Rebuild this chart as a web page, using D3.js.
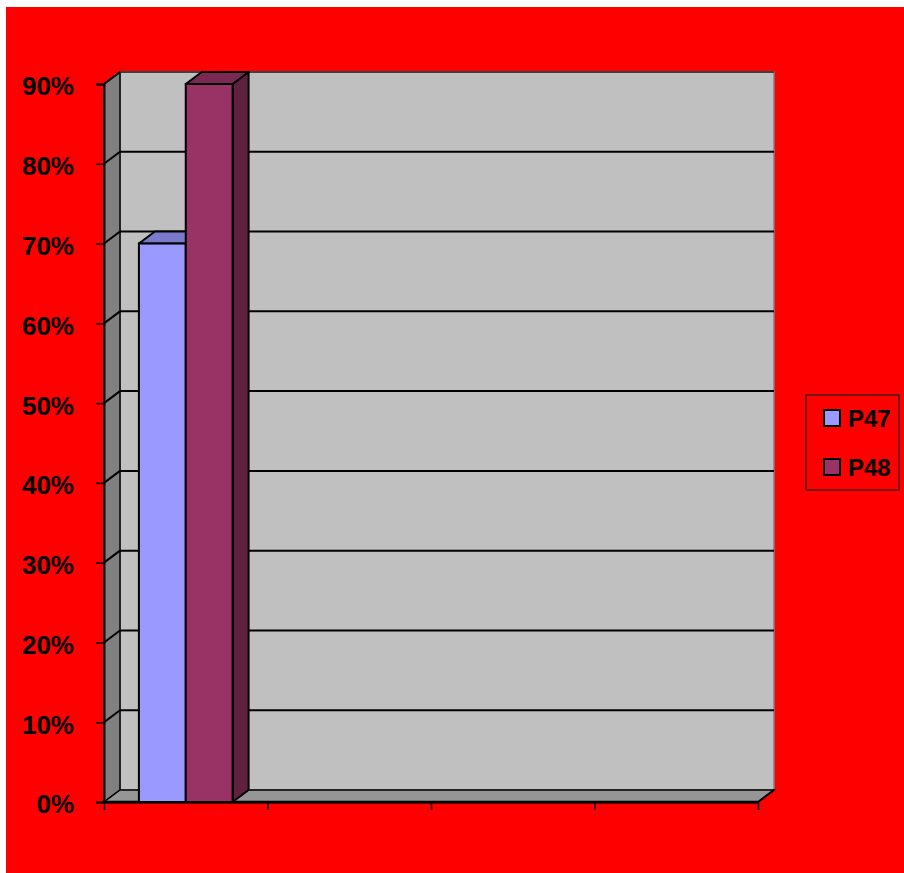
<!DOCTYPE html>
<html>
<head>
<meta charset="utf-8">
<script src="https://cdn.jsdelivr.net/npm/d3@7"></script>
<style>
  html, body { margin: 0; padding: 0; background: #ffffff; }
  svg { display: block; }
  text { font-family: "Liberation Sans", Arial, sans-serif; font-weight: bold; }
</style>
</head>
<body>
<svg id="chart" width="904" height="873"></svg>
<script>
// Chart data
const categories = ["1", "2", "3", "4"];
const seriesNames = ["P47", "P48"];
const p47Values = [0.70, null, null, null];
const p48Values = [0.90, null, null, null];
const yTicks = [0, 0.1, 0.2, 0.3, 0.4, 0.5, 0.6, 0.7, 0.8, 0.9];

const seriesValues = [p47Values, p48Values];
const frontColors = ["#9999FF", "#993366"];
const topColors = ["#7A7ACC", "#7A2952"];
const sideColors = ["#5C5C99", "#602040"];

const svg = d3.select("#chart");
const W = 904, H = 873;

// Red chart area
svg.append("rect").attr("x", 6).attr("y", 7).attr("width", W - 6).attr("height", H - 7).attr("fill", "#FF0000");

// Plot geometry (front plane) and depth offset of the 3D walls
const plotLeft = 104, plotRight = 758, plotBottom = 802, plotTop = 84;
const dx = 16, dy = -12;

const y = d3.scaleLinear().domain([0, 0.9]).range([plotBottom, plotTop]);
const x = d3.scaleBand().domain(categories).range([plotLeft, plotRight]).paddingInner(0).paddingOuter(0);
const xEdge = d3.scaleLinear().domain([0, categories.length]).range([plotLeft, plotRight]);
const xSeries = d3.scaleBand().domain(seriesNames).range([0, x.bandwidth()]).paddingInner(0).paddingOuter(0.745);

const pts = a => a.map(p => p.join(",")).join(" ");

// Back wall
svg.append("rect")
  .attr("x", plotLeft + dx).attr("y", plotTop + dy)
  .attr("width", plotRight - plotLeft).attr("height", plotBottom - plotTop)
  .attr("fill", "#C0C0C0").attr("stroke", "#808080").attr("stroke-width", 1.5);

// Left side wall
svg.append("polygon")
  .attr("points", pts([[plotLeft, plotBottom], [plotLeft, plotTop], [plotLeft + dx, plotTop + dy], [plotLeft + dx, plotBottom + dy]]))
  .attr("fill", "#808080").attr("stroke", "#000").attr("stroke-width", 1.5);

// Floor
svg.append("polygon")
  .attr("points", pts([[plotLeft, plotBottom], [plotRight, plotBottom], [plotRight + dx, plotBottom + dy], [plotLeft + dx, plotBottom + dy]]))
  .attr("fill", "#969696").attr("stroke", "#000").attr("stroke-width", 1.5);

// Gridlines across the back wall and down the side wall
const grid = svg.append("g");
yTicks.filter(t => t > 0).forEach(t => {
  const yy = y(t);
  grid.append("line")
    .attr("x1", plotLeft + dx).attr("x2", plotRight + dx)
    .attr("y1", yy + dy).attr("y2", yy + dy)
    .attr("stroke", t === 0.9 ? "#404040" : "#000").attr("stroke-width", 2);
  grid.append("line")
    .attr("x1", plotLeft).attr("x2", plotLeft + dx)
    .attr("y1", yy).attr("y2", yy + dy)
    .attr("stroke", "#000").attr("stroke-width", 2);
});
// Floor front edge
svg.append("line").attr("x1", plotLeft).attr("x2", plotRight).attr("y1", plotBottom).attr("y2", plotBottom)
  .attr("stroke", "#000").attr("stroke-width", 2.5);
svg.append("line").attr("x1", plotRight).attr("x2", plotRight + dx).attr("y1", plotBottom).attr("y2", plotBottom + dy)
  .attr("stroke", "#000").attr("stroke-width", 2);

// 3D bars
const bars = svg.append("g");
categories.forEach((c, ci) => {
  seriesNames.forEach((s, si) => {
    const v = seriesValues[si][ci];
    if (v == null) return;
    const x0 = x(c) + xSeries(s);
    const x1 = x0 + xSeries.bandwidth();
    const y0 = y(0), y1 = y(v);
    // side face
    bars.append("polygon")
      .attr("points", pts([[x1, y0], [x1, y1], [x1 + dx, y1 + dy], [x1 + dx, y0 + dy]]))
      .attr("fill", sideColors[si]).attr("stroke", "#000").attr("stroke-width", 2).attr("stroke-linejoin", "round");
    // top face
    bars.append("polygon")
      .attr("points", pts([[x0, y1], [x1, y1], [x1 + dx, y1 + dy], [x0 + dx, y1 + dy]]))
      .attr("fill", topColors[si]).attr("stroke", "#000").attr("stroke-width", 2).attr("stroke-linejoin", "round");
    // front face
    bars.append("rect")
      .attr("x", x0).attr("y", y1).attr("width", x1 - x0).attr("height", y0 - y1)
      .attr("fill", frontColors[si]).attr("stroke", "#000").attr("stroke-width", 2);
  });
});

// Value axis
const yAxis = svg.append("g")
  .attr("transform", `translate(${plotLeft},0)`)
  .call(d3.axisLeft(y).tickValues(yTicks).tickFormat(d3.format(".0%")).tickSize(8).tickPadding(22));
yAxis.select(".domain").attr("stroke", "#000").attr("stroke-width", 2);
yAxis.selectAll(".tick line").attr("stroke", "#000").attr("stroke-width", 1.5);
yAxis.selectAll(".tick text")
  .attr("fill", "#000").attr("dy", "0.42em")
  .style("font-size", "26px").style("font-family", "'Liberation Sans', Arial, sans-serif").style("font-weight", "bold");

// Category axis (tick marks at category boundaries, no labels)
const xAxis = svg.append("g")
  .attr("transform", `translate(0,${plotBottom})`)
  .call(d3.axisBottom(xEdge).tickValues(d3.range(categories.length + 1)).tickFormat("").tickSize(8).tickSizeOuter(0));
xAxis.select(".domain").attr("stroke", "#000").attr("stroke-width", 2);
xAxis.selectAll(".tick line").attr("stroke", "#000").attr("stroke-width", 1.5);

// Legend
const legend = svg.append("g");
legend.append("rect").attr("x", 806).attr("y", 395).attr("width", 93).attr("height", 95)
  .attr("fill", "none").attr("stroke", "#202020").attr("stroke-width", 1.2);
seriesNames.forEach((s, i) => {
  const yy = 410 + i * 49;
  legend.append("rect").attr("x", 824).attr("y", yy).attr("width", 16).attr("height", 16)
    .attr("fill", frontColors[i]).attr("stroke", "#000").attr("stroke-width", 2);
  legend.append("text").attr("x", 848).attr("y", yy + 17).text(s)
    .attr("fill", "#000").style("font-size", "24px");
});
</script>
</body>
</html>
